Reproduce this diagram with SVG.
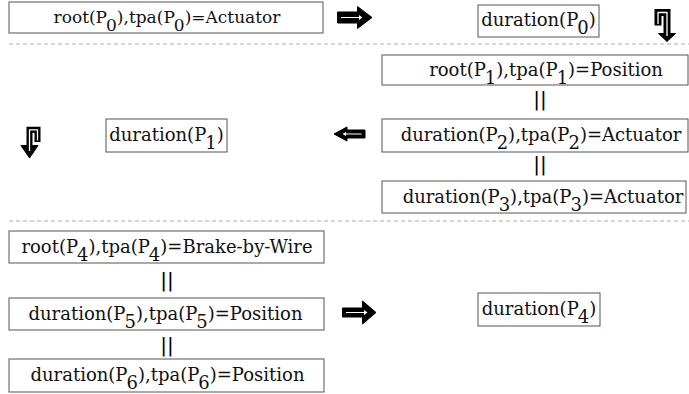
<svg xmlns="http://www.w3.org/2000/svg" width="689" height="394" viewBox="0 0 689 394">
<style>
.box{fill:#fff;stroke:#555;stroke-width:1}
.t{font-family:"DejaVu Serif",serif;font-size:18px;fill:#111;text-anchor:middle}
.sep{stroke:#aaa;stroke-width:1;stroke-dasharray:4 3}
.par{font-family:"DejaVu Sans",sans-serif;font-size:20px;fill:#000;text-anchor:middle}
.arr{fill:#000;stroke:#000;stroke-width:1;stroke-linejoin:miter}
.in{fill:#fff}
.bend{fill:none;stroke:#000;stroke-width:7;stroke-linejoin:miter}
.inl{fill:none;stroke:#fff;stroke-width:1.3}
</style>
<g id="separators">
<line class="sep" x1="9" y1="44" x2="689" y2="44"/>
<line class="sep" x1="9" y1="221" x2="689" y2="221"/>
</g>
<g id="n0"><rect class="box" x="9" y="2" width="314" height="31"/><text class="t" x="167" y="23" style="font-size:17px">root(P<tspan dx="-1" dy="8">0</tspan><tspan dy="-8">),tpa(P</tspan><tspan dx="-1" dy="8">0</tspan><tspan dy="-8">)=Actuator</tspan></text></g>
<g id="n1"><rect class="box" x="478" y="5" width="121" height="32"/><text class="t" x="538.5" y="26">duration(P<tspan dx="-1" dy="8">0</tspan><tspan dy="-8">)</tspan></text></g>
<g id="n2"><rect class="box" x="382" y="55" width="306" height="30"/><text class="t" x="546" y="75.5">root(P<tspan dx="-1" dy="8">1</tspan><tspan dy="-8">),tpa(P</tspan><tspan dx="-1" dy="8">1</tspan><tspan dy="-8">)=Position</tspan></text></g>
<g id="n3"><rect class="box" x="382" y="119" width="306" height="33"/><text class="t" x="541" y="141">duration(P<tspan dx="-1" dy="8">2</tspan><tspan dy="-8">),tpa(P</tspan><tspan dx="-1" dy="8">2</tspan><tspan dy="-8">)=Actuator</tspan></text></g>
<g id="n4"><rect class="box" x="382" y="181" width="304" height="32"/><text class="t" x="543" y="202.5">duration(P<tspan dx="-1" dy="8">3</tspan><tspan dy="-8">),tpa(P</tspan><tspan dx="-1" dy="8">3</tspan><tspan dy="-8">)=Actuator</tspan></text></g>
<g id="n5"><rect class="box" x="106" y="119" width="121" height="33"/><text class="t" x="166.5" y="141">duration(P<tspan dx="-1" dy="8">1</tspan><tspan dy="-8">)</tspan></text></g>
<g id="n6"><rect class="box" x="9" y="231" width="315" height="32"/><text class="t" x="167" y="252.5">root(P<tspan dx="-1" dy="8">4</tspan><tspan dy="-8">),tpa(P</tspan><tspan dx="-1" dy="8">4</tspan><tspan dy="-8">)=Brake-by-Wire</tspan></text></g>
<g id="n7"><rect class="box" x="9" y="298" width="315" height="32"/><text class="t" x="165.5" y="319.5">duration(P<tspan dx="-1" dy="8">5</tspan><tspan dy="-8">),tpa(P</tspan><tspan dx="-1" dy="8">5</tspan><tspan dy="-8">)=Position</tspan></text></g>
<g id="n8"><rect class="box" x="9" y="359" width="315" height="33"/><text class="t" x="167.5" y="381">duration(P<tspan dx="-1" dy="8">6</tspan><tspan dy="-8">),tpa(P</tspan><tspan dx="-1" dy="8">6</tspan><tspan dy="-8">)=Position</tspan></text></g>
<g id="n9"><rect class="box" x="478" y="293" width="122" height="33"/><text class="t" x="539" y="315">duration(P<tspan dx="-1" dy="8">4</tspan><tspan dy="-8">)</tspan></text></g>
<g id="connectors">
<text class="par" x="540" y="106">||</text>
<text class="par" x="540" y="171">||</text>
<text class="par" x="167" y="287">||</text>
<text class="par" x="167" y="352">||</text>
<path class="arr" d="M337.5,12 H357.5 V6.5 L372,17.5 L357.5,28.5 V23 H337.5 Z"/>
<path class="in" d="M341,17 H359 V15 L362.5,17.5 L359,20 V18 H341 Z"/>
<path class="arr" d="M342.5,308 H362.5 V301 L376,312.5 L362.5,324 V317 H342.5 Z"/>
<path class="in" d="M346,312 H364 V310 L367.5,312.5 L364,315 V313 H346 Z"/>
<path class="arr" d="M365,130 H347 V127 L334,134 L347,141 V138 H365 Z"/>
<path class="in" d="M361.5,133.4 H346 V132 L342.5,134 L346,136 V134.6 H361.5 Z"/>
<path class="bend" d="M658,25.5 V12.5 H667 V34"/>
<path class="arr" d="M658.5,33.5 H675.5 L667,41.5 Z"/>
<path class="inl" d="M658,24 V12.5 H667 V36"/>
<path class="bend" style="stroke-width:6" d="M37.5,142 V129.8 H29.5 V146"/>
<path class="arr" d="M21,145.5 H38 L29.5,158 Z"/>
<path class="inl" d="M37.5,140.5 V129.8 H29.5 V151"/>
</g>
</svg>
